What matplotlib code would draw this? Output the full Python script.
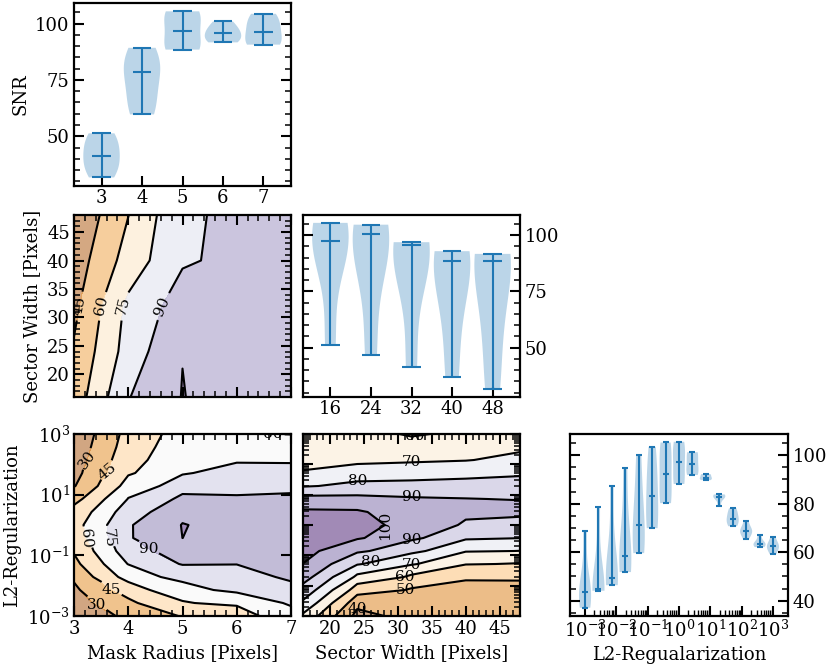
import numpy as np
import matplotlib
matplotlib.use('Agg')
import matplotlib.pyplot as plt
from matplotlib.ticker import MultipleLocator, FixedLocator, FixedFormatter, NullFormatter, NullLocator, LogLocator

plt.rcParams['font.family'] = 'DejaVu Serif'
plt.rcParams['mathtext.fontset'] = 'dejavuserif'
plt.rcParams['font.size'] = 13
plt.rcParams['axes.labelsize'] = 13

radius = [3, 4, 5, 6, 7]
sector = [16, 24, 32, 40, 48]
l2_exp = [-3 + 6 * i / 14 for i in range(15)]
l2 = [10 ** e for e in l2_exp]

# SNR, rows = sector width, columns = mask radius
snr_sector_radius = np.array([
    [51.3, 89.3, 105.5, 97.5, 104.4],
    [46.8, 81.3, 104.7, 101.0, 100.6],
    [41.3, 78.6, 96.9, 95.8, 96.4],
    [36.8, 66.2, 88.5, 92.9, 90.7],
    [31.7, 59.7, 88.6, 91.7, 91.0],
])

# SNR, rows = L2 (low to high), columns = mask radius
snr_l2_radius = np.array([
    [20, 33, 46, 52, 71],
    [24, 42, 59, 63.5, 77],
    [27, 54, 69, 79.5, 87.5],
    [33.5, 66, 81, 85, 92],
    [41, 75.5, 91, 90.3, 96],
    [47, 83, 99, 99, 99],
    [52, 88.5, 105.02, 101, 102],
    [54, 88.5, 105.5, 101, 102],
    [49, 83, 100, 97, 98],
    [39.5, 75.5, 93, 91, 92],
    [29, 65.5, 82, 86, 86],
    [25, 58, 73.5, 81, 80],
    [22, 55, 69, 72.5, 72.5],
    [20, 52, 68, 68, 68],
    [18, 50, 66, 61, 59.5],
])

# SNR, rows = L2 (low to high), columns = sector width
snr_l2_sector = np.array([
    [68.7, 37.1, 42.9, 43.5, 44.0],
    [78.7, 44.1, 44.4, 45.0, 45.5],
    [87.4, 55.6, 49.2, 46.4, 47.1],
    [94.5, 68.3, 58.6, 52.0, 51.8],
    [99.9, 81.0, 71.2, 60.5, 59.6],
    [103.4, 92.0, 83.2, 70.8, 69.9],
    [105.2, 101.2, 92.3, 81.8, 80.2],
    [105.5, 103.0, 97.1, 88.8, 88.1],
    [101.2, 100.9, 96.2, 92.8, 91.8],
    [92.2, 91.8, 90.7, 90.2, 89.7],
    [79.0, 82.5, 82.9, 83.2, 83.8],
    [70.7, 72.5, 73.7, 76.0, 78.1],
    [65.6, 68.2, 68.7, 69.5, 72.8],
    [64.0, 63.4, 62.1, 63.0, 67.1],
    [63.0, 62.7, 59.2, 61.5, 66.2],
])

levels_15a = [30, 45, 60, 75, 90, 105, 120]
levels_15b = [15, 30, 45, 60, 75, 90, 105, 120]
levels_10 = [30, 40, 50, 60, 70, 80, 90, 100, 110]

# where the contour labels sit, and how they are turned
label_pos_radius = [(3.26, 10 ** 2.14), (3.63, 10 ** 1.76), (3.25, 10 ** -0.42), (3.63, 10 ** -0.42),
                    (4.36, 10 ** -0.83), (3.69, 10 ** -2.13), (3.44, 10 ** -2.56), (6.47, 10 ** 2.95)]
label_rot_radius = [55, 40, -85, -85, 0, 0, 0, 0]
label_pos_sector = [(32, 10 ** 2.03), (24, 10 ** 1.43), (32, 10 ** 1.02), (28.7, 10 ** 0.03),
                    (32, 10 ** -0.48), (26, 10 ** -1.27), (32, 10 ** -1.27), (31, 10 ** -1.69),
                    (31.1, 10 ** -2.12), (24, 10 ** -2.74), (32.5, 10 ** 2.86)]
label_rot_sector = [0, 0, 0, 90, 0, 0, 0, 0, 0, 0, 0]

W, H = 830, 664
fig = plt.figure(figsize=(8.3, 6.64), dpi=100)


def box(x0, x1, y0, y1):
    return fig.add_axes([x0 / W, 1 - y1 / H, (x1 - x0) / W, (y1 - y0) / H])


def frame(ax):
    for s in ax.spines.values():
        s.set_linewidth(1.6)


def violin(ax, samples, pos, width, ylim, major):
    vp = ax.violinplot(samples, positions=pos, widths=width, showmedians=True)
    ax.set_ylim(*ylim)
    ax.yaxis.set_major_locator(MultipleLocator(major))
    ax.yaxis.set_minor_locator(MultipleLocator(5))
    ax.tick_params(axis='y', which='major', direction='in', left=True, right=True, length=7, width=1.5, pad=3.5)
    ax.tick_params(axis='y', which='minor', direction='in', left=True, right=True, length=4, width=1.1)
    ax.tick_params(axis='x', which='major', direction='in', top=False, length=7, width=1.5, pad=2.5)
    frame(ax)
    return vp


def contour(ax, x, y, z, levels):
    ax.contourf(x, y, z, levels=levels, cmap='PuOr', alpha=0.5)
    cs = ax.contour(x, y, z, levels=levels, colors='k', linewidths=1.5)
    ax.tick_params(which='major', direction='in', top=True, right=True, length=7, width=1.5, pad=3)
    ax.tick_params(which='minor', direction='in', top=True, right=True, length=4, width=1.1)
    frame(ax)
    return cs


def place_labels(ax, cs, pos, rot, inline):
    texts = ax.clabel(cs, fmt='%d', fontsize=11, manual=pos, inline=inline, inline_spacing=2)
    for t, r in zip(texts, rot):
        t.set_rotation(r)
        t.set_clip_on(True)


# top: mask radius
ax = box(74, 291, 3, 186)
violin(ax, [snr_sector_radius[:, i] for i in range(5)], radius, 0.9, (27.9, 109.2), 25)
ax.set_xlim(2.32, 7.68)
ax.set_xticks(radius)
ax.set_ylabel('SNR')

# middle left
ax = box(74, 291, 215, 397)
cs = contour(ax, radius, sector, snr_sector_radius, levels_15a)
ax.clabel(cs, levels=cs.levels, fmt='%d', fontsize=11)
ax.xaxis.set_minor_locator(MultipleLocator(0.2))
ax.yaxis.set_major_locator(MultipleLocator(5))
ax.yaxis.set_minor_locator(MultipleLocator(1))
ax.set_xticks(radius)
ax.xaxis.set_major_formatter(NullFormatter())
ax.set_ylabel('Sector Width [Pixels]')

# middle right: sector width
ax = box(303, 520, 215, 397)
violin(ax, [snr_sector_radius[i] for i in range(5)], sector, 7.2, (28, 109), 25)
ax.set_xlim(10.6, 53.4)
ax.set_xticks(sector)
ax.yaxis.tick_right()
ax.tick_params(axis='y', which='both', left=True, right=True)

# bottom left
ax = box(74, 291, 434, 616)
ax.set_yscale('log')
cs = contour(ax, radius, l2, snr_l2_radius, levels_15b)
ax.set_xticks(radius)
ax.xaxis.set_minor_locator(MultipleLocator(0.2))
ax.yaxis.set_major_locator(FixedLocator([1e-3, 1e-1, 1e1, 1e3]))
ax.yaxis.set_minor_locator(NullLocator())
ax.set_xlabel('Mask Radius [Pixels]')
ax.set_ylabel('L2-Regularization')
place_labels(ax, cs, label_pos_radius, label_rot_radius, True)

# bottom middle
ax = box(303, 520, 434, 616)
ax.set_yscale('log')
cs = contour(ax, sector, l2, snr_l2_sector, levels_10)
ax.xaxis.set_major_locator(MultipleLocator(5))
ax.xaxis.set_minor_locator(MultipleLocator(1))
ax.yaxis.set_major_locator(LogLocator(base=10, numticks=10))
ax.yaxis.set_major_formatter(NullFormatter())
ax.yaxis.set_minor_formatter(NullFormatter())
ax.set_xlabel('Sector Width [Pixels]')
place_labels(ax, cs, label_pos_sector, label_rot_sector, False)

# bottom right: L2
ax = box(570, 788, 434, 616)
violin(ax, [snr_l2_sector[i] for i in range(15)], l2_exp, 0.386, (33.7, 108.7), 20)
ax.set_xlim(-3.48, 3.48)
ax.xaxis.set_major_locator(FixedLocator(range(-3, 4)))
ax.xaxis.set_major_formatter(FixedFormatter([f'$10^{{{e}}}$' for e in range(-3, 4)]))
minor_pos = [d + np.log10(m) for d in range(-3, 3) for m in range(2, 10)]
ax.xaxis.set_minor_locator(FixedLocator(minor_pos))
ax.tick_params(axis='x', which='minor', direction='in', top=False, length=4, width=1.0)
ax.yaxis.tick_right()
ax.tick_params(axis='y', which='both', left=True, right=True)
ax.set_xlabel('L2-Regualarization')

fig.savefig('out.png', dpi=100)
